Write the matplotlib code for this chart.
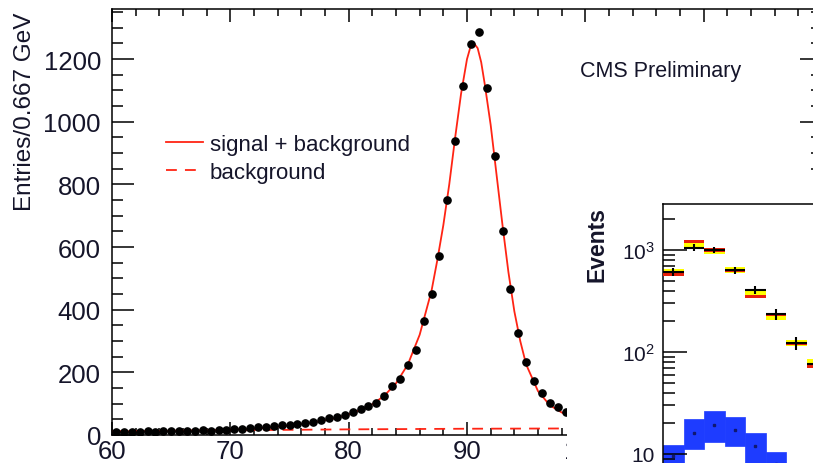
import numpy as np
import matplotlib
matplotlib.use('Agg')
import matplotlib.pyplot as plt
from matplotlib.ticker import MultipleLocator, FixedLocator, LogLocator, NullFormatter
from matplotlib.patches import Rectangle

plt.rcParams['font.family'] = ['Liberation Sans', 'DejaVu Sans']
plt.rcParams['mathtext.fontset'] = 'custom'
plt.rcParams['mathtext.rm'] = 'Liberation Sans'
plt.rcParams['mathtext.it'] = 'Liberation Sans:italic'
plt.rcParams['mathtext.bf'] = 'Liberation Sans:bold'

W, H = 813, 464
TXT = '#15152a'
RED = '#ff2414'

# --- main panel: di-lepton mass, 0.667 GeV bins (only the visible part, 60 - 98.7 GeV)
bin_w = 2.0 / 3.0
entries = [9, 10, 11, 10, 12, 11, 12, 13, 12, 14, 13, 15, 14, 16, 17,
           18, 20, 22, 25, 27, 30, 31, 33, 35,
           38, 43, 49, 53, 57, 65, 73, 83, 94, 101, 126, 155, 179, 222, 272,
           363, 451, 572, 750, 937, 1115, 1249, 1285, 1109, 890, 652, 465,
           325, 233, 171, 133, 101, 89, 73]
mass = 60 + bin_w * (np.arange(len(entries)) + 0.5)

# fit curve
fit_x = [60, 62, 64, 66, 68, 70, 72, 74, 76, 77, 78, 79, 80, 81, 82, 83, 84, 85,
         86, 87, 87.5, 88, 88.5, 89, 89.5, 90, 90.3, 90.6, 90.9, 91.2, 91.5, 92,
         92.5, 93, 93.5, 94, 94.5, 95, 96, 97, 98, 99, 100]
fit_y = [11, 12, 13, 14, 15, 17, 20, 26, 35, 40, 47, 55, 66, 80, 98, 125, 165, 225,
         320, 460, 560, 670, 800, 950, 1090, 1200, 1240, 1250, 1235, 1190, 1120, 990,
         830, 670, 520, 395, 300, 225, 140, 95, 72, 58, 50]
bkg_x = [60, 70, 80, 90, 100, 120]
bkg_y = [11, 15, 18, 20, 21, 22]

# --- inset: events per bin (log scale)
inset_bins = np.arange(8) + 0.5
mc_band = [612, 1137, 978, 632, 377, 220, 122, 79]
mc_line = [582, 1211, 1000, 632, 348, 234, 122, 72]
data_y = [612, 1058, 1007, 632, 408, 236, 122, 76]
data_err = [57, 75, 70, 55, 40, 30, 18, 12]
blue_lo = [7.0, 11.2, 13.0, 11.9, 7.5, 6.0, 3.5, 2.5]
blue_hi = [12.3, 22.0, 26.6, 22.9, 16.1, 10.4, 6.5, 4.5]
blue_mid = [9.6, 16.1, 19.4, 17.3, 12.1, 8.0, 5.0, 3.5]

fig = plt.figure(figsize=(W / 100, H / 100), dpi=100)

ax = fig.add_axes([112 / W, 28 / H, 710 / W, 426 / H])
ax.plot(fit_x, fit_y, color=RED, lw=1.3, zorder=2, label='signal + background')
ax.plot(bkg_x, bkg_y, color=RED, lw=1.3, ls=(0, (6, 4.5)), zorder=2, label='background')
ax.plot(mass, entries, 'o', color='black', ms=5.2, zorder=3)
ax.set_xlim(60, 120)
ax.set_ylim(0, 1360)

ax.xaxis.set_major_locator(MultipleLocator(10))
ax.xaxis.set_minor_locator(MultipleLocator(2))
ax.yaxis.set_major_locator(MultipleLocator(200))
ax.yaxis.set_minor_locator(MultipleLocator(50))
ax.tick_params(which='both', direction='in', top=True, right=True, width=1.1,
               labelcolor=TXT, labelsize=18.5)
ax.tick_params(axis='x', which='major', length=9.5, pad=3)
ax.tick_params(axis='x', which='minor', length=5)
ax.tick_params(axis='y', which='major', length=16, pad=8)
ax.tick_params(axis='y', which='minor', length=8)
for s in ax.spines.values():
    s.set_linewidth(1.1)

fig.text(25 / W, 1 - 13 / H, 'Entries/0.667 GeV', rotation=90, ha='center', va='top',
         fontsize=17.5, color=TXT)

ax.legend(loc='upper left', bbox_to_anchor=(166 / W, 1 - 135 / H),
          bbox_transform=fig.transFigure, frameon=False, fontsize=16,
          handlelength=1.66, handletextpad=0.3, borderpad=0, borderaxespad=0,
          labelspacing=0.3, labelcolor=TXT)

fig.text(580 / W, 1 - 72 / H, 'CMS Preliminary', ha='left', va='center',
         fontsize=15.5, color=TXT)

# the overlapping panel hides the right lower part of the main plot
fig.add_artist(Rectangle((567 / W, -0.1), 0.5, 0.1 + (H - 178) / H,
                         transform=fig.transFigure, facecolor='white',
                         edgecolor='none', zorder=1))

ax2 = fig.add_axes([663 / W, (H - 520) / H, 240 / W, 315 / H])
ax2.set_zorder(2)
ax2.set_yscale('log')
ax2.set_xlim(0, 240 / 20.5)
ax2.set_ylim(10 ** (1 - 65 / 102), 10 ** (3 + 46 / 102))

blue_lo = np.array(blue_lo)
blue_hi = np.array(blue_hi)
ax2.bar(inset_bins, blue_hi - blue_lo, bottom=blue_lo, width=1.0, color='#1e3cff',
        edgecolor='#1e3cff', lw=0.5, zorder=1)
ax2.plot(inset_bins, blue_mid, 's', color='#101870', ms=1.5, zorder=2)

band = np.array(mc_band)
line = np.array(mc_line)
f1, f2 = 1.07, 1.035
ax2.bar(inset_bins, band * (f1 - 1 / f1), bottom=band / f1, width=1.0,
        color='#ffff00', edgecolor='none', zorder=2)
ax2.bar(inset_bins, line * (f2 - 1 / f2), bottom=line / f2, width=1.0,
        color='#e8200a', edgecolor='none', zorder=3)
ax2.errorbar(inset_bins, data_y, xerr=0.5, yerr=data_err, fmt='none',
             ecolor='black', elinewidth=1.5, capsize=0, zorder=4)

ax2.tick_params(axis='x', bottom=False, top=False, labelbottom=False)
ax2.yaxis.set_major_locator(FixedLocator([10, 100, 1000]))
ax2.set_yticklabels(['10', r'$10^{2}$', r'$10^{3}$'])
ax2.yaxis.set_minor_locator(LogLocator(base=10, subs=np.arange(2, 10)))
ax2.yaxis.set_minor_formatter(NullFormatter())
ax2.tick_params(axis='y', which='both', direction='in', width=1.1,
                labelcolor=TXT, labelsize=15, pad=6)
ax2.tick_params(axis='y', which='major', length=17)
ax2.tick_params(axis='y', which='minor', length=8.5)
for s in ax2.spines.values():
    s.set_linewidth(1.1)

fig.text(597 / W, 1 - 207 / H, 'Events', rotation=90, ha='center', va='top',
         fontsize=16.5, fontweight='bold', color=TXT, zorder=3)

fig.savefig('out.png', dpi=100)
